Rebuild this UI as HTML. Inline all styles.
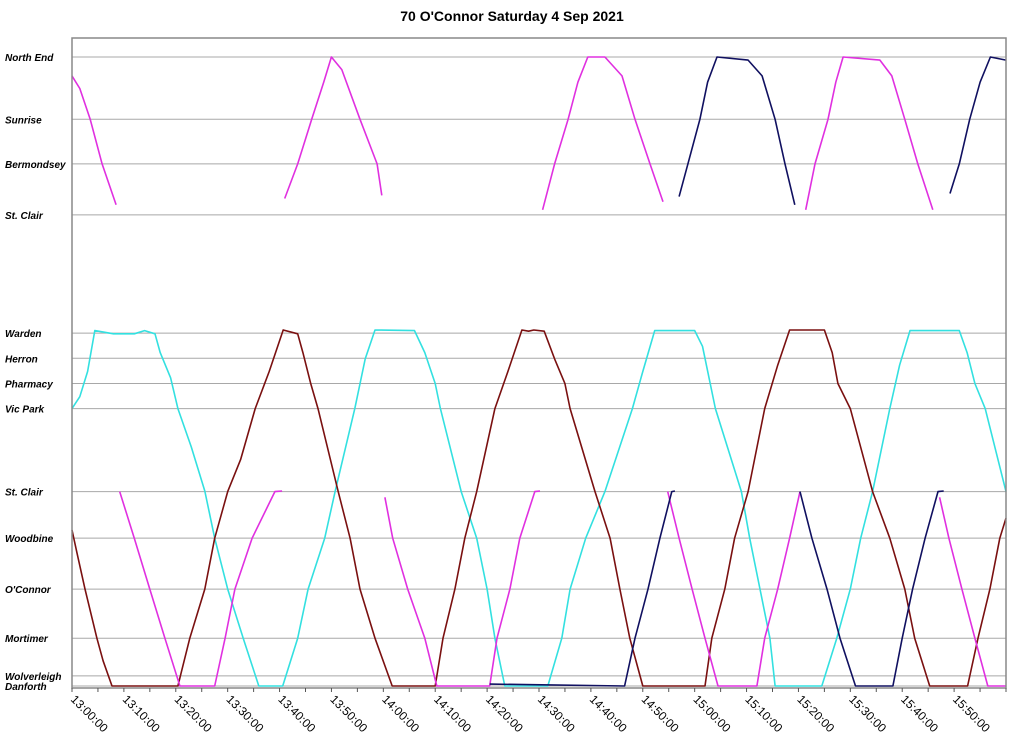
<!DOCTYPE html>
<html><head><meta charset="utf-8"><style>
html,body{margin:0;padding:0;background:#fff;}
svg{display:block;font-family:"Liberation Sans",sans-serif;}
</style></head><body>
<svg id="chart" width="1024" height="746" viewBox="0 0 1024 746">
<text x="512" y="21" text-anchor="middle" font-size="14" font-weight="bold">70 O'Connor Saturday 4 Sep 2021</text>
<g id="grid"></g><g id="series"></g><g id="axes"></g>
</svg>
<script>
const stopNames=["North End","Sunrise","Bermondsey","St. Clair","Warden","Herron","Pharmacy","Vic Park","St. Clair","Woodbine","O'Connor","Mortimer","Wolverleigh","Danforth"];
const stopValues=[100,90.1,83,74.9,56.1,52.1,48.1,44.1,30.9,23.5,15.4,7.6,1.6,0];
const xTickLabels=["13:00:00","13:10:00","13:20:00","13:30:00","13:40:00","13:50:00","14:00:00","14:10:00","14:20:00","14:30:00","14:40:00","14:50:00","15:00:00","15:10:00","15:20:00","15:30:00","15:40:00","15:50:00"];
// trips: [minutes after 13:00, position]
const cyanTrip=[[0,44.1],[1.5,46],[3,50],[4.4,56.5],[8,56],[12,56],[14,56.5],[16,56],[17,53],[19,49],[20.4,44.1],[23,38],[25.6,31],[27.5,23.5],[30,15.4],[33,7.6],[36,0],[40.6,0],[43.5,7.6],[45.5,15.4],[48.7,23.5],[50.7,30.9],[54.5,44.1],[56.5,52],[58.4,56.6],[66,56.5],[68,53],[70,48.1],[71,44.1],[75,30.9],[78,23.5],[80,15.4],[81.5,7.6],[83.4,0],[91.7,0],[94.4,7.6],[96,15.4],[99,23.5],[102.7,30.9],[108,44.1],[110,50],[112.3,56.5],[120,56.5],[121.5,54],[123,48.1],[124,44.1],[129,30.9],[130.6,23.5],[132.6,15.4],[134.5,7.6],[135.5,0],[144.5,0],[147.4,7.6],[150,15.4],[152,23.5],[154.3,30.9],[157.6,44.1],[159.5,51],[161.5,56.5],[171,56.5],[172.5,53],[174,48.1],[176,44.1],[180,30.9]];
const maroonTrip=[[0,24.8],[1,21],[2.5,15.4],[4.8,7.6],[6,4],[7.7,0],[20.4,0],[21,2],[22.7,7.6],[25.6,15.4],[27.5,23.5],[30,30.9],[32.5,36],[35.3,44.1],[38,50],[40.7,56.6],[43.5,56],[44.5,53],[46,48.1],[47.4,44.1],[51.3,30.9],[53.6,23.5],[55.5,15.4],[58.4,7.6],[61.7,0],[70,0],[71.5,7.6],[73.8,15.4],[75.7,23.5],[78,30.9],[81.5,44.1],[84,50],[86.7,56.6],[88,56.4],[89,56.6],[91,56.4],[93,52],[95,48.1],[96,44.1],[100.8,30.9],[103.7,23.5],[105.6,15.4],[107.5,7.6],[110,0],[122,0],[123.3,7.6],[125.8,15.4],[127.7,23.5],[130.3,30.9],[133.5,44.1],[136,51],[138.3,56.6],[145,56.6],[146.5,53],[147.6,48.1],[150,44.1],[154.3,30.9],[157.6,23.5],[160.5,15.4],[162.4,7.6],[165.3,0],[172.6,0],[174.6,7.6],[176.9,15.4],[178.8,23.5],[180,26.7]];
const magentaTrips=[
[[0,97],[1.5,95],[3.5,90.1],[5.8,83],[8.5,76.5]],
[[9.2,30.9],[12,23.5],[15,15.4],[17.9,7.6],[20.8,0],[27.5,0],[29.5,7.6],[31.4,15.4],[34.7,23.5],[39.1,30.9],[40.5,31]],
[[41,77.5],[43.5,83],[46.2,90.1],[48.5,96],[50,100],[52,98],[55.5,90.1],[58.8,83],[59.7,78]],
[[60.3,30],[61.8,23.5],[64.7,15.4],[68,7.6],[70.3,0],[80.5,0],[81.9,7.6],[84.4,15.4],[86.3,23.5],[89.2,30.9],[90.2,31]],
[[90.7,75.7],[93,83],[95.6,90.1],[97.5,96],[99.4,100],[102.7,100],[106,97],[108.5,90.1],[111.4,83],[113.9,77]],
[[114.8,30.9],[117,23.5],[119.5,15.4],[122,7.6],[124.5,0],[132,0],[133.5,7.6],[136,15.4],[138.3,23.5],[140.3,30.9]],
[[141.4,75.7],[143.2,83],[145.7,90.1],[147.2,96],[148.6,100],[155.7,99.5],[158,97],[160.5,90.1],[163,83],[165.9,75.7]],
[[167.2,30],[169,23.5],[171.5,15.4],[174,7.6],[176.5,0],[180,0]]];
const navyTrips=[
[[80.5,0.3],[106.5,0],[108.5,7.6],[111,15.4],[113.3,23.5],[115.6,30.9],[116.2,31]],
[[117,77.8],[118.7,83],[121,90.1],[122.5,96],[124.3,100],[130.3,99.5],[133,97],[135.5,90.1],[137.4,83],[139.3,76.5]],
[[140.3,30.9],[142.6,23.5],[145.5,15.4],[148,7.6],[151,0],[158.2,0],[160,7.6],[162,15.4],[164.4,23.5],[166.9,30.9],[168,31]],
[[169.2,78.3],[171,83],[173,90.1],[175,96],[177,100],[180,99.5]]];

const X0=72,X1=1006,Y0=686,Y1=57,PT=38,PB=688;
const xs=m=>X0+(X1-X0)*m/180;
const ys=v=>Y0-(Y0-Y1)*v/100;
const NS="http://www.w3.org/2000/svg";
const mk=(t,p)=>{const e=document.createElementNS(NS,t);for(const k in p)e.setAttribute(k,p[k]);return e;};
const grid=document.getElementById('grid'),ser=document.getElementById('series'),axes=document.getElementById('axes');
stopValues.forEach((v,i)=>{
  const l=mk('line',{x1:X0,x2:X1,y1:ys(v),y2:ys(v),stroke:'#a8a8a8','stroke-width':1});
  
  
  grid.appendChild(l);
  const t=mk('text',{x:5,y:ys(v)+4,'font-size':10,'font-weight':'bold','font-style':'italic'});
  t.textContent=stopNames[i];
  
  
  axes.appendChild(t);
});
const frame=mk('rect',{x:X0,y:PT,width:X1-X0,height:PB-PT,fill:'none',stroke:'#888','stroke-width':1.5});


axes.appendChild(frame);
for(let m=0;m<=180;m+=5){
  const tk=mk('line',{x1:xs(m),x2:xs(m),y1:PB,y2:PB+4,stroke:'#555'});
  
  
  axes.appendChild(tk);
}
xTickLabels.forEach((s,i)=>{
  const x=xs(i*10)-2,y=PB+12;
  const t=mk('text',{x:x,y:y,'font-size':12,transform:`rotate(45 ${x} ${y})`});
  t.textContent=s;
  
  
  axes.appendChild(t);
});
function draw(pts,color,name){
  const p=mk('polyline',{points:pts.map(d=>xs(d[0]).toFixed(1)+','+ys(d[1]).toFixed(1)).join(' '),fill:'none',stroke:color,'stroke-width':1.6,'stroke-linejoin':'round'});
  
  
  ser.appendChild(p);
}
draw(cyanTrip,'#33e0e0','cyan-bus-trace');
draw(maroonTrip,'#7a1010','maroon-bus-trace');
magentaTrips.forEach(t=>draw(t,'#e030e0','magenta-bus-trace'));
navyTrips.forEach(t=>draw(t,'#101060','navy-bus-trace'));
</script>
</body></html>
